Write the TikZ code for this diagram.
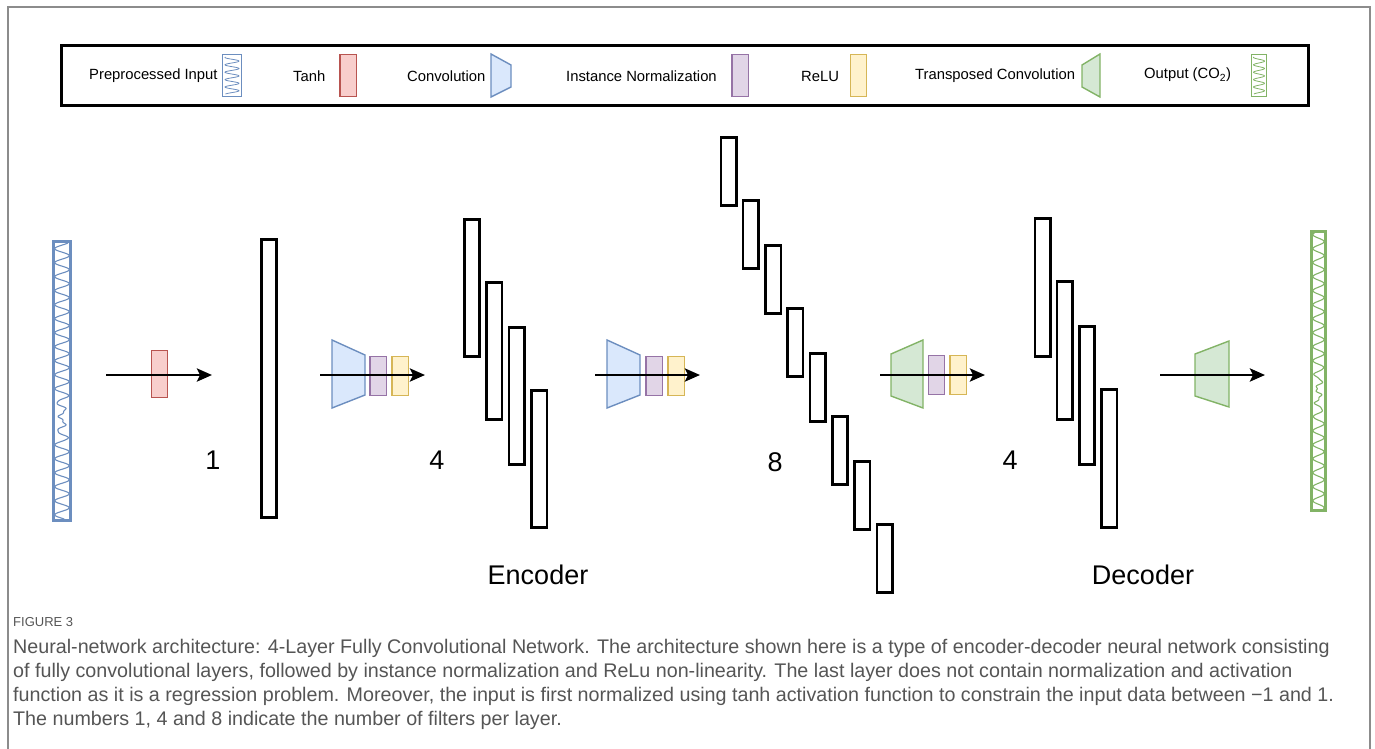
\documentclass[tikz,border=0pt]{standalone}
\usepackage{fontspec}
\setmainfont{Liberation Sans}
\usetikzlibrary{arrows.meta}
\definecolor{convline}{HTML}{6C8EBF}
\definecolor{convfill}{HTML}{DAE8FC}
\definecolor{tanhline}{HTML}{B85450}
\definecolor{tanhfill}{HTML}{F8CECC}
\definecolor{normline}{HTML}{9673A6}
\definecolor{normfill}{HTML}{E1D5E7}
\definecolor{reluline}{HTML}{D6B656}
\definecolor{relufill}{HTML}{FFF2CC}
\definecolor{tconvline}{HTML}{82B366}
\definecolor{tconvfill}{HTML}{D5E8D4}
\definecolor{capgray}{HTML}{555555}
\definecolor{framegray}{HTML}{8C8C8C}
\newcommand{\legfont}{\fontsize{14.8}{17}\selectfont}
\newcommand{\lblfont}{\fontsize{27}{32}\selectfont}
\newcommand{\capfont}{\fontsize{19.7}{24}\selectfont}
\newcommand{\figfont}{\fontsize{13}{15}\selectfont}
\tikzset{
  layer/.style={draw, line width=2.6pt, inner sep=0pt, minimum width=15.4pt},
  opbox/.style={draw, line width=1.4pt, inner sep=0pt,
    minimum width=16.4pt, minimum height=38.6pt},
  tanhbox/.style={opbox, draw=tanhline, fill=tanhfill, minimum height=46.6pt},
  normbox/.style={opbox, draw=normline, fill=normfill},
  relubox/.style={opbox, draw=reluline, fill=relufill},
  convshape/.style={draw=convline, fill=convfill, line width=1.4pt},
  tconvshape/.style={draw=tconvline, fill=tconvfill, line width=1.4pt},
  sigbox/.style={draw, line width=2.6pt, inner sep=0pt},
  flow/.style={line width=2.8pt, -{Stealth[length=15pt, width=13pt, inset=3pt]}},
  lgd/.style={font=\legfont, anchor=west, inner sep=0pt},
  lbl/.style={font=\lblfont, inner sep=0pt},
  declare function={bumpin(\t)=max(0,1-abs(\t-418)/26);
                    bumpout(\t)=max(0,1-abs(\t-393)/28);},
}
\begin{document}
\begin{tikzpicture}[x=1pt, y=-1pt]
\useasboundingbox (0,0) rectangle (1375,749);

% outer frame
\draw[framegray, line width=1.5pt] (8,749) -- (8,7) -- (1370,7) -- (1370,749);

% legend
\node[draw, line width=3pt, minimum width=1247pt, minimum height=60pt,
  inner sep=0pt] (legend) at (685,75.5) {};
\node[lgd] (lIn) at (89,76) {Preprocessed Input};
\node[sigbox, draw=convline, line width=1.4pt, minimum width=18.6pt,
  minimum height=41.6pt] (iconIn) at (232,75.5) {};
\draw[convline, line width=0.8pt] plot[domain=57:94, samples=120, smooth]
  ({232+7*sin(\x*48.6)}, \x);
\node[lgd] (lTanh) at (293,76) {Tanh};
\node[tanhbox, minimum height=41.6pt] (iconTanh) at (348,75.5) {};
\node[lgd] (lConv) at (407,76) {Convolution};
\draw[convshape] (491,54) -- (511,65) -- (511,87) -- (491,97) -- cycle;
\node[lgd] (lNorm) at (566,76) {Instance Normalization};
\node[normbox, minimum height=41.6pt] (iconNorm) at (740,75.5) {};
\node[lgd] (lRelu) at (801,76) {ReLU};
\node[relubox, minimum height=41.6pt] (iconRelu) at (858.5,75.5) {};
\node[lgd] (lTconv) at (915,76) {Transposed Convolution};
\draw[tconvshape] (1082,65) -- (1100,54) -- (1100,97) -- (1082,87) -- cycle;
\node[lgd] (lOut) at (1144,75) {Output (CO\textsubscript{2})};
\node[sigbox, draw=tconvline, line width=1.4pt, minimum width=15pt,
  minimum height=41.6pt] (iconOut) at (1259,75.5) {};
\draw[tconvline, line width=0.8pt] plot[domain=57:94, samples=120, smooth]
  ({1259+5.5*sin(\x*48.6)}, \x);

% input signal
\node[sigbox, draw=convline, minimum width=17.4pt, minimum height=279.4pt]
  (input) at (62,381) {};
\draw[convline, line width=1.1pt] plot[domain=243:519, samples=420, smooth]
  ({62+(7.2-5*bumpin(\x))*sin(\x*25.7)+1.6*bumpin(\x)*sin(61*(\x-418))}, \x);

% output signal
\node[sigbox, draw=tconvline, minimum width=14.4pt, minimum height=279.4pt]
  (output) at (1318.5,371) {};
\draw[tconvline, line width=1.1pt] plot[domain=233:509, samples=420, smooth]
  ({1318.5+(5.6-3.6*bumpout(\x))*sin(\x*25.7)+1.6*bumpout(\x)*sin(61*(\x-393))}, \x);

% layers
\node[layer, minimum height=278.4pt] (lay1) at (269,378.5) {};
\foreach \i in {0,...,3}{
  \pgfmathsetmacro{\yy}{288+54*\i+9*mod(\i,2)}
  \node[layer, minimum height=137.4pt] (enc\i) at ({472+22.4*\i},\yy) {};
  \node[layer, minimum height=138.4pt] (dec\i) at ({1042.5+22.2*\i},\yy-0.5) {};
}
\foreach \i in {0,...,7}{
  \pgfmathsetmacro{\yy}{171.5+54*\i+9*mod(\i,2)}
  \node[layer, minimum height=68.4pt] (mid\i) at ({728.5+22.3*\i},\yy) {};
}

\node[lbl] (n1) at (213,460) {1};
\node[lbl] (n4a) at (437,460) {4};
\node[lbl] (n8) at (775,462) {8};
\node[lbl] (n4b) at (1010,460) {4};
\node[lbl] (encLbl) at (538,575) {Encoder};
\node[lbl] (decLbl) at (1143,575) {Decoder};

% operations
\node[tanhbox] (tanh) at (159.5,374) {};
\draw[convshape] (332,340) -- (365,355) -- (365,395) -- (332,408) -- cycle;
\node[normbox] (norm1) at (378,376) {};
\node[relubox] (relu1) at (400,376) {};
\draw[convshape] (607,340) -- (640,355) -- (640,395) -- (607,408) -- cycle;
\node[normbox] (norm2) at (654,376) {};
\node[relubox] (relu2) at (676,376) {};
\draw[tconvshape] (891,354) -- (923,340) -- (923,408) -- (891,396) -- cycle;
\node[normbox] (norm3) at (936.5,375) {};
\node[relubox] (relu3) at (958,375) {};
\draw[tconvshape] (1195,354) -- (1229,341) -- (1229,407) -- (1195,396) -- cycle;

% arrows
\coordinate (a1s) at (106,375); \coordinate (a1e) at (212,375);
\coordinate (a2s) at (320,375); \coordinate (a2e) at (425,375);
\coordinate (a3s) at (595,375); \coordinate (a3e) at (700,375);
\coordinate (a4s) at (880,375); \coordinate (a4e) at (985,375);
\coordinate (a5s) at (1160,375); \coordinate (a5e) at (1265,375);
\foreach \k in {1,...,5}
  \draw[flow] (a\k s) -- (a\k e);

% caption
\node[font=\figfont, text=capgray, anchor=north west, inner sep=0pt]
  (figno) at (13,617) {FIGURE 3};
\node[font=\capfont, text=capgray, anchor=north west, inner sep=0pt,
  align=left] (caption) at (13,639)
  {Neural-network architecture: 4-Layer Fully Convolutional Network. The architecture shown here is a type of encoder-decoder neural network consisting\\
   of fully convolutional layers, followed by instance normalization and ReLu non-linearity. The last layer does not contain normalization and activation\\
   function as it is a regression problem. Moreover, the input is first normalized using tanh activation function to constrain the input data between −1 and 1.\\
   The numbers 1, 4 and 8 indicate the number of filters per layer.};
\end{tikzpicture}
\end{document}
